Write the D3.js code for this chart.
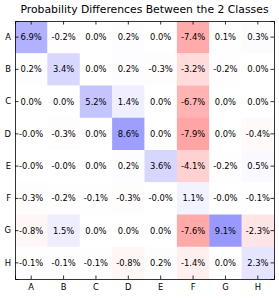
<!DOCTYPE html>
<html>
<head>
<meta charset="utf-8">
<script src="https://cdn.jsdelivr.net/npm/d3@7"></script>
<style>
body { margin: 0; background: #fff; }
svg { display: block; font-family: "DejaVu Sans", sans-serif; }
</style>
</head>
<body>
<div class="chart"></div>
<script>
const classes = ['A', 'B', 'C', 'D', 'E', 'F', 'G', 'H'];
// rows = y class, cols = x class, in percent
const rowA = [6.9, -0.2, 0.0, 0.2, 0.0, -7.4, 0.1, 0.3];
const rowB = [0.2, 3.4, 0.0, 0.2, -0.3, -3.2, -0.2, 0.0];
const rowC = [0.0, 0.0, 5.2, 1.4, 0.0, -6.7, 0.0, 0.0];
const rowD = [-0.0, -0.3, 0.0, 8.6, 0.0, -7.9, 0.0, -0.4];
const rowE = [-0.0, -0.0, 0.0, 0.2, 3.6, -4.1, -0.2, 0.5];
const rowF = [-0.3, -0.2, -0.1, -0.3, -0.0, 1.1, -0.0, -0.1];
const rowG = [-0.8, 1.5, 0.0, 0.0, 0.0, -7.6, 9.1, -2.3];
const rowH = [-0.1, -0.1, -0.1, -0.8, 0.2, -1.4, 0.0, 2.3];
const rows = [rowA, rowB, rowC, rowD, rowE, rowF, rowG, rowH];

const margin = {top: 21, left: 15, bottom: 19, right: 5};
const width = 279 - margin.left - margin.right;
const height = 298 - margin.top - margin.bottom;

const svg = d3.select('.chart')
    .append('svg')
    .attr('width', 279)
    .attr('height', 298);

const g = svg.append('g')
    .attr('transform', 'translate(' + margin.left + ',' + margin.top + ')');

const xScale = d3.scaleBand().domain(classes).range([0, width]);
const yScale = d3.scaleBand().domain(classes).range([0, height]);

const color = d3.scaleLinear()
    .domain([-22.5, 0, 22.5])
    .range(['#ff0000', '#ffffff', '#0000ff'])
    .clamp(true);

const cells = [];
rows.forEach((r, i) => r.forEach((v, j) => cells.push({row: classes[i], col: classes[j], v: v})));

const fmt = v => ((v < 0 || Object.is(v, -0)) ? '-' : '') + Math.abs(v).toFixed(1) + '%';

g.selectAll('rect.cell')
    .data(cells)
    .enter()
    .append('rect')
    .attr('class', 'cell')
    .attr('x', d => xScale(d.col))
    .attr('y', d => yScale(d.row))
    .attr('width', xScale.bandwidth() + 0.3)
    .attr('height', yScale.bandwidth() + 0.3)
    .attr('fill', d => color(d.v));

g.selectAll('text.val')
    .data(cells)
    .enter()
    .append('text')
    .attr('class', 'val')
    .attr('x', d => xScale(d.col) + xScale.bandwidth() / 2)
    .attr('y', d => yScale(d.row) + yScale.bandwidth() / 2)
    .attr('text-anchor', 'middle')
    .attr('dy', '0.35em')
    .attr('font-size', 8.4)
    .attr('fill', '#000')
    .text(d => fmt(d.v));

const tick = -3.5;
g.append('g').call(d3.axisLeft(yScale).tickSize(tick).tickPadding(4));
g.append('g').attr('transform', 'translate(0,' + height + ')')
    .call(d3.axisBottom(xScale).tickSize(tick).tickPadding(5));
g.append('g').call(d3.axisTop(xScale).tickSize(tick).tickFormat(''));
g.append('g').attr('transform', 'translate(' + width + ',0)')
    .call(d3.axisRight(yScale).tickSize(tick).tickFormat(''));

g.selectAll('.domain').attr('stroke', '#000').attr('stroke-width', 0.8);
g.selectAll('.tick line').attr('stroke', '#000').attr('stroke-width', 0.8);
g.selectAll('.tick text').attr('font-size', 8.4).attr('fill', '#000')
    .attr('font-family', '"DejaVu Sans", sans-serif');

svg.append('text')
    .attr('x', margin.left + width / 2)
    .attr('y', 13)
    .attr('text-anchor', 'middle')
    .attr('font-size', 10.8)
    .attr('fill', '#000')
    .text('Probability Differences Between the 2 Classes');
</script>
</body>
</html>
